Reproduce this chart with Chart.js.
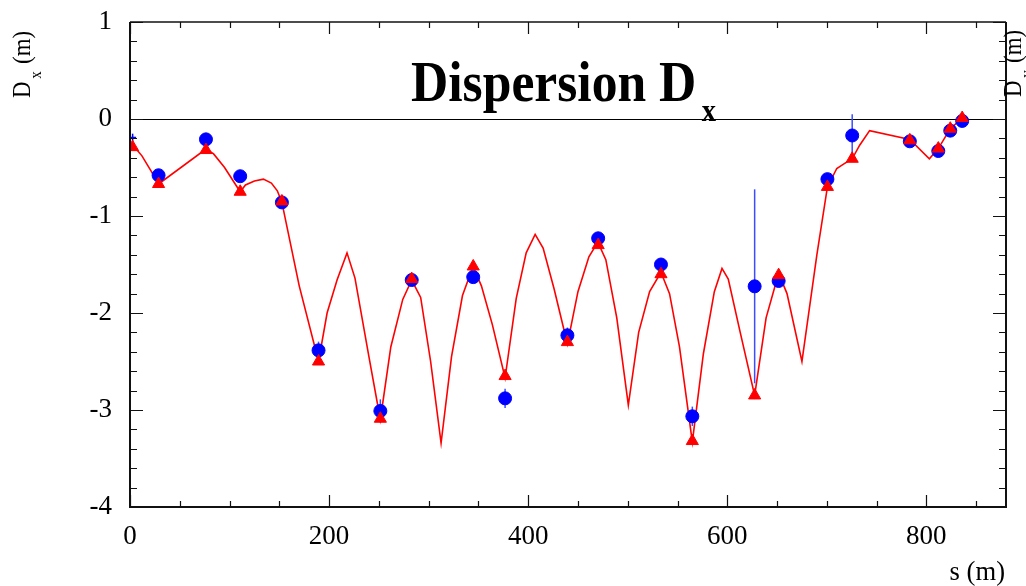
<!DOCTYPE html>
<html lang="en">
<head>
    <meta charset="UTF-8">
    <title>Dispersion Dx</title>
    <script src="https://cdn.jsdelivr.net/npm/chart.js"></script>
    <style>
        html, body { margin: 0; padding: 0; background: #fff; }
        #wrap { width: 1026px; height: 586px; }
    </style>
</head>
<body>
    <div id="wrap"><canvas id="dispChart" width="1026" height="586"></canvas></div>

    <script>
        // model curve (red line)
        const sModel = [3, 12, 22, 28.7, 76.3, 84, 95, 110.7, 116, 125, 134, 142, 148, 152.6,
            170, 189.4, 198, 208, 218, 226, 240, 251.5, 262, 274, 283, 292, 302, 312.5,
            323, 334, 344.6, 353, 364, 376.8, 388, 398, 407, 415, 426, 439.4,
            450, 461, 470, 478, 489, 500.6, 511, 522, 533.4, 542, 552, 564.9,
            576, 587, 594.7, 601, 613, 627.5, 639, 651.6, 660, 675,
            690, 700.6, 710, 716, 725.5, 733, 743, 783.4, 803, 812, 824, 836];
        const dxModel = [-0.27, -0.38, -0.55, -0.67, -0.31, -0.36, -0.5, -0.75, -0.68, -0.64, -0.62, -0.66, -0.74, -0.86,
            -1.72, -2.5, -2.0, -1.66, -1.38, -1.64, -2.45, -3.1, -2.35, -1.86, -1.66, -1.84, -2.5, -3.34,
            -2.45, -1.82, -1.52, -1.72, -2.12, -2.67, -1.85, -1.38, -1.19, -1.33, -1.75, -2.32,
            -1.78, -1.42, -1.27, -1.45, -2.05, -2.95, -2.2, -1.78, -1.58, -1.8, -2.35, -3.33,
            -2.42, -1.78, -1.54, -1.65, -2.2, -2.85, -2.05, -1.59, -1.8, -2.5,
            -1.4, -0.70, -0.51, -0.47, -0.41, -0.27, -0.12, -0.21, -0.41, -0.305, -0.10, 0.01];

        // BPM positions, model at BPMs (triangles), measurement (circles) and errors
        const sBpm = [2.6, 28.7, 76.3, 110.7, 152.6, 189.4, 251.5, 283, 344.8, 376.8, 439.4,
            470.3, 533.4, 564.9, 627.5, 651.6, 700.6, 725.5, 783.4, 812, 824, 836];
        const dxBpmModel = [-0.29, -0.67, -0.32, -0.75, -0.85, -2.5, -3.09, -1.65, -1.52, -2.65, -2.3,
            -1.3, -1.6, -3.32, -2.85, -1.61, -0.70, -0.41, -0.22, -0.305, -0.10, 0.01];
        const dxMeas = [-0.19, -0.58, -0.21, -0.59, -0.86, -2.385, -3.01, -1.66, -1.63, -2.88, -2.23,
            -1.23, -1.50, -3.065, -1.725, -1.67, -0.62, -0.17, -0.23, -0.33, -0.12, -0.02];
        const dxErr = [0.04, 0.04, 0.03, 0.03, 0.04, 0.09, 0.12, 0.04, 0.04, 0.1, 0.08,
            0.04, 0.04, 0.1, 1.0, 0.04, 0.04, 0.22, 0.03, 0.03, 0.03, 0.03];

        const xTicksMajor = [0, 200, 400, 600, 800];
        const yTicksMajor = [1, 0, -1, -2, -3, -4];

        const serif = '"Liberation Serif", "Times New Roman", serif';

        // text squeezed a bit sideways like in ROOT pictures
        function drawSqueezed(ctx, parts, x, y, rot, sx) {
            ctx.save();
            ctx.translate(x, y);
            ctx.rotate(rot);
            ctx.scale(sx, 1);
            ctx.textBaseline = 'alphabetic';
            ctx.textAlign = 'left';
            let cx = 0;
            parts.forEach(p => {
                ctx.font = p.font;
                ctx.fillText(p.text, cx + (p.dx || 0), p.dy || 0);
                cx += ctx.measureText(p.text).width + (p.dx || 0);
            });
            ctx.restore();
        }

        const decor = {
            id: 'decor',
            beforeDatasetsDraw(chart) {
                const { ctx, chartArea: a, scales: { x, y } } = chart;
                ctx.save();
                ctx.strokeStyle = '#000';
                ctx.lineWidth = 1;
                const y0 = Math.round(y.getPixelForValue(0)) + 0.5;
                ctx.beginPath();
                ctx.moveTo(a.left, y0);
                ctx.lineTo(a.right, y0);
                ctx.stroke();

                // error bars of the measurement
                ctx.strokeStyle = '#3b4dff';
                ctx.lineWidth = 1.5;
                sBpm.forEach((s, i) => {
                    const px = x.getPixelForValue(s);
                    ctx.beginPath();
                    ctx.moveTo(px, y.getPixelForValue(dxMeas[i] + dxErr[i]));
                    ctx.lineTo(px, y.getPixelForValue(dxMeas[i] - dxErr[i]));
                    ctx.stroke();
                });
                ctx.restore();
            },
            afterDraw(chart) {
                const { ctx, chartArea: a, scales: { x, y } } = chart;
                ctx.save();
                ctx.strokeStyle = '#111';
                ctx.fillStyle = '#000';

                // frame
                ctx.lineWidth = 2;
                ctx.beginPath();
                ctx.moveTo(a.left, a.top);
                ctx.lineTo(a.left, a.bottom);
                ctx.lineTo(a.right, a.bottom);
                ctx.lineTo(a.right, a.top);
                ctx.stroke();
                ctx.lineWidth = 1.5;
                ctx.beginPath();
                ctx.moveTo(a.left, a.top);
                ctx.lineTo(a.right, a.top);
                ctx.stroke();

                // tick marks, inside the frame on all four sides
                ctx.lineWidth = 1.2;
                for (let v = 0; v <= 850; v += 50) {
                    const px = Math.round(x.getPixelForValue(v)) + 0.5;
                    const len = v % 200 === 0 ? 12 : 6;
                    ctx.beginPath();
                    ctx.moveTo(px, a.bottom); ctx.lineTo(px, a.bottom - len);
                    ctx.moveTo(px, a.top); ctx.lineTo(px, a.top + len);
                    ctx.stroke();
                }
                for (let k = 0; k <= 25; k++) {
                    const v = -4 + k * 0.2;
                    const py = Math.round(y.getPixelForValue(v)) + 0.5;
                    const len = k % 5 === 0 ? 13 : 7;
                    ctx.beginPath();
                    ctx.moveTo(a.left, py); ctx.lineTo(a.left + len, py);
                    ctx.moveTo(a.right, py); ctx.lineTo(a.right - len, py);
                    ctx.stroke();
                }

                // title
                drawSqueezed(ctx, [
                    { text: 'Dispersion D', font: 'bold 58px ' + serif },
                    { text: 'x', font: 'bold 32px ' + serif, dx: 6, dy: 20 }
                ], 411, 101, 0, 0.89);

                // axis titles
                drawSqueezed(ctx, [
                    { text: 'D', font: '26px ' + serif },
                    { text: 'x', font: '17px ' + serif, dx: 3, dy: 11 },
                    { text: ' (m)', font: '26px ' + serif, dx: 2 }
                ], 30, 98, -Math.PI / 2, 0.88);
                drawSqueezed(ctx, [
                    { text: 'D', font: '26px ' + serif },
                    { text: 'y', font: '17px ' + serif, dx: 3, dy: 11 },
                    { text: ' (m)', font: '26px ' + serif, dx: 2 }
                ], 1021, 97, -Math.PI / 2, 0.88);
                ctx.save();
                ctx.font = '28px ' + serif;
                const w = ctx.measureText('s (m)').width * 0.95;
                ctx.restore();
                drawSqueezed(ctx, [{ text: 's (m)', font: '28px ' + serif }], 1005 - w, 580, 0, 0.95);

                ctx.restore();
            }
        };

        const ctx = document.getElementById('dispChart').getContext('2d');
        new Chart(ctx, {
            type: 'scatter',
            data: {
                datasets: [
                    {
                        label: 'model at BPM',
                        data: sBpm.map((s, i) => ({ x: s, y: dxBpmModel[i] })),
                        pointStyle: 'triangle',
                        pointRadius: 7,
                        backgroundColor: '#ff0000',
                        borderColor: '#ff0000',
                        borderWidth: 1,
                        order: 0
                    },
                    {
                        label: 'measured',
                        data: sBpm.map((s, i) => ({ x: s, y: dxMeas[i] })),
                        pointStyle: sBpm.map((s, i) => i === 0 ? 'cross' : 'circle'),
                        pointRadius: sBpm.map((s, i) => i === 0 ? 3.5 : 6.5),
                        backgroundColor: '#0000ff',
                        borderColor: '#0000ff',
                        borderWidth: sBpm.map((s, i) => i === 0 ? 1.2 : 1),
                        order: 1
                    },
                    {
                        label: 'model',
                        data: sModel.map((s, i) => ({ x: s, y: dxModel[i] })),
                        showLine: true,
                        borderColor: '#ff0000',
                        borderWidth: 1.6,
                        pointRadius: 0,
                        tension: 0,
                        order: 2
                    }
                ]
            },
            options: {
                responsive: false,
                animation: false,
                events: [],
                layout: { padding: { top: 22, left: 0, right: 0, bottom: 0 } },
                plugins: {
                    legend: { display: false },
                    tooltip: { enabled: false },
                    title: { display: false }
                },
                scales: {
                    x: {
                        type: 'linear',
                        position: 'bottom',
                        min: 0,
                        max: 880,
                        afterFit: s => { s.height = 79; },
                        afterBuildTicks: s => { s.ticks = xTicksMajor.map(v => ({ value: v })); },
                        grid: { display: false, drawTicks: false },
                        border: { display: false },
                        ticks: {
                            padding: 14,
                            color: '#000',
                            font: { family: serif, size: 27 },
                            maxRotation: 0
                        }
                    },
                    y: {
                        type: 'linear',
                        position: 'left',
                        min: -4,
                        max: 1,
                        afterFit: s => { s.width = 130; s.paddingTop = 0; s.paddingBottom = 0; },
                        afterBuildTicks: s => { s.ticks = yTicksMajor.map(v => ({ value: v })); },
                        grid: { display: false, drawTicks: false },
                        border: { display: false },
                        ticks: {
                            padding: 18,
                            color: '#000',
                            font: { family: serif, size: 27 }
                        }
                    },
                    y2: {
                        type: 'linear',
                        position: 'right',
                        min: -4,
                        max: 1,
                        afterFit: s => { s.width = 20; s.paddingTop = 0; s.paddingBottom = 0; },
                        grid: { display: false, drawTicks: false },
                        border: { display: false },
                        ticks: { display: false }
                    }
                }
            },
            plugins: [decor]
        });
    </script>
</body>
</html>
